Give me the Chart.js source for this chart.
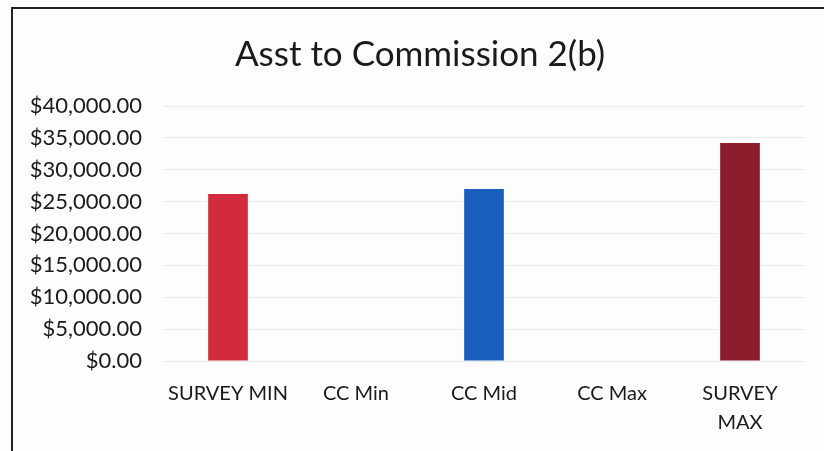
<!DOCTYPE html>
<html>
<head>
<meta charset="utf-8">
<script src="https://cdn.jsdelivr.net/npm/chart.js@4.4.0/dist/chart.umd.min.js"></script>
<style>
    html, body { margin: 0; padding: 0; background: #fdfdfd; }
    #frame {
        position: absolute; left: 11px; top: 7px; width: 830px; height: 460px;
        border-left: 2px solid #222; border-top: 2px solid #222;
    }
    #wrap { position: absolute; left: 0; top: 0; width: 824px; height: 451px; }
</style>
</head>
<body>
<div id="frame"></div>
<div id="wrap"><canvas id="salaryChart"></canvas></div>
<script>
// categories and values
var categories = ['SURVEY MIN', 'CC Min', 'CC Mid', 'CC Max', ['SURVEY', 'MAX']];
var salaries = [26200, null, 27000, null, 34200];
var barColors = ['#d22b3c', '#d22b3c', '#1a5fbf', '#1a5fbf', '#8c1d2c'];
var yTicks = [0, 5000, 10000, 15000, 20000, 25000, 30000, 35000, 40000];

function money(v)
{
    return '$' + v.toLocaleString('en-US', { minimumFractionDigits: 2, maximumFractionDigits: 2 });
}

// the title sits a bit right of the canvas centre in the original
var shiftTitle = {
    id: 'shiftTitle',
    afterLayout: function(chart) {
        if (chart.titleBlock) chart.titleBlock.left = 36;
    }
};

var ctx = document.getElementById('salaryChart').getContext('2d');
var myChart = new Chart(ctx, {
    type: 'bar',
    data: {
        labels: categories,
        datasets: [{
            data: salaries,
            backgroundColor: barColors,
            categoryPercentage: 1,
            barPercentage: 0.31
        }]
    },
    plugins: [shiftTitle],
    options: {
        responsive: true,
        maintainAspectRatio: false,
        animation: false,
        layout: { padding: { left: 12, right: 20, bottom: 0, top: 0 } },
        plugins: {
            legend: { display: false },
            tooltip: { enabled: false },
            title: {
                display: true,
                text: 'Asst to Commission 2(b)',
                color: '#1a1a1a',
                font: { family: 'Lato', size: 35, weight: 'normal' },
                padding: { top: 34, bottom: 30 }
            }
        },
        scales: {
            x: {
                afterFit: function(scale) { scale.height = 90; },
                grid: { display: false, drawTicks: false },
                border: { display: false },
                ticks: {
                    color: '#1a1a1a',
                    padding: 18,
                    maxRotation: 0,
                    autoSkip: false,
                    font: { family: 'Lato', size: 20, lineHeight: 1.45 }
                }
            },
            y: {
                min: 0,
                max: 40000,
                afterBuildTicks: function(scale) {
                    scale.ticks = yTicks.map(v => ({ value: v }));
                },
                afterFit: function(scale) { scale.width = 152; },
                grid: { color: 'rgba(0,0,0,0.07)', drawTicks: false },
                border: { display: false },
                ticks: {
                    color: '#1a1a1a',
                    padding: 22,
                    font: { family: 'Lato', size: 22 },
                    callback: function(v) { return money(v); }
                }
            }
        }
    }
});
</script>
</body>
</html>
